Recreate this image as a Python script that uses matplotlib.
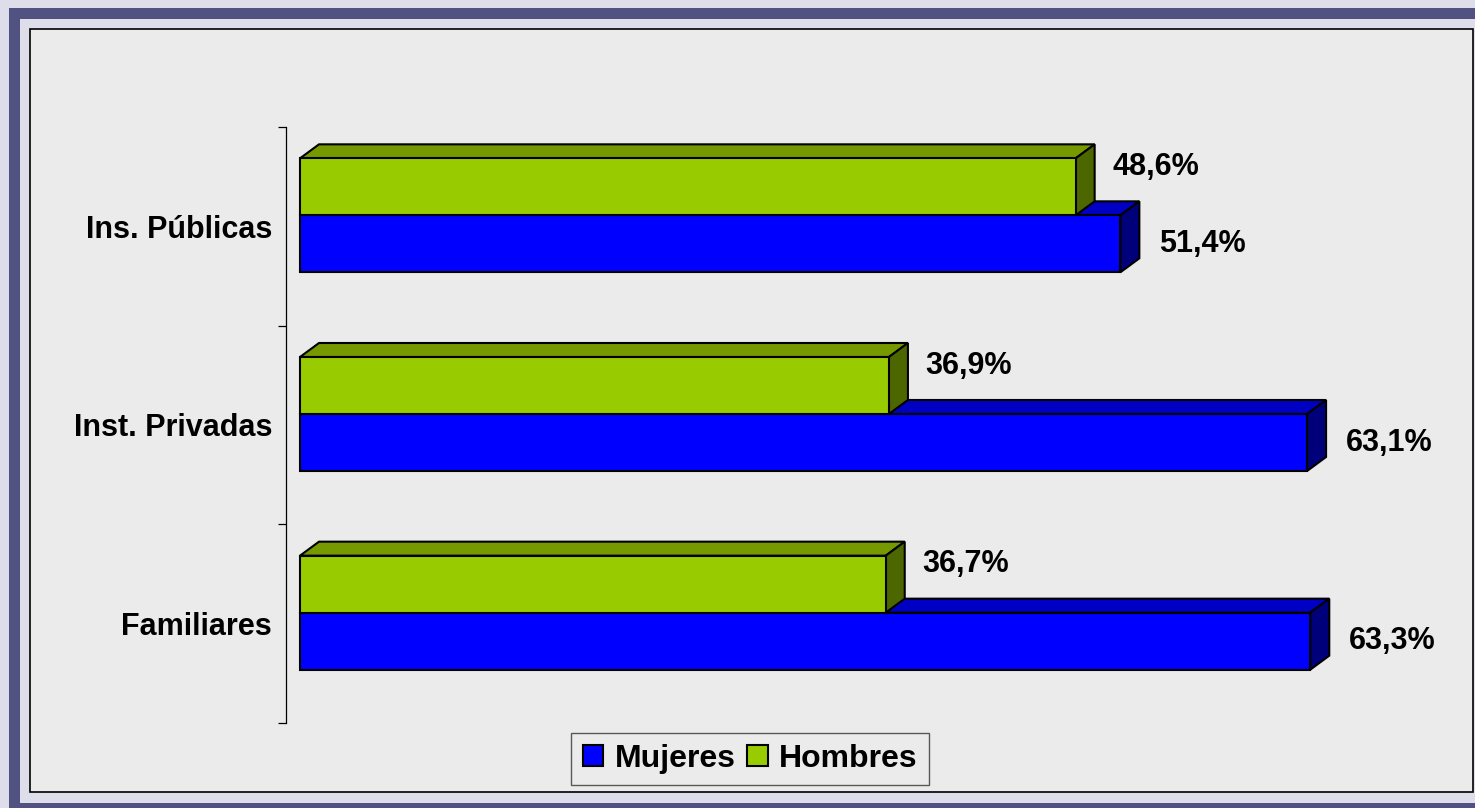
import matplotlib
matplotlib.use("Agg")
import matplotlib.pyplot as plt
from matplotlib.patches import Rectangle, Polygon

# data (bottom to top, as drawn)
categories = ["Familiares", "Inst. Privadas", "Ins. Públicas"]
mujeres = [63.3, 63.1, 51.4]
hombres = [36.7, 36.9, 48.6]
value_labels_m = ["63,3%", "63,1%", "51,4%"]
value_labels_h = ["36,7%", "36,9%", "48,6%"]
series_names = ["Mujeres", "Hombres"]

plt.rcParams['font.family'] = ['Liberation Sans', 'DejaVu Sans']
plt.rcParams['font.weight'] = 'bold'

W, H = 1475, 808
fig = plt.figure(figsize=(W / 100, H / 100), dpi=100)
fig.patch.set_facecolor("#dedeea")


def box(x0, y0, x1, y1, **kw):
    # rectangle given in pixels from the top-left corner
    r = Rectangle((x0 / W, 1 - y1 / H), (x1 - x0) / W, (y1 - y0) / H,
                  transform=fig.transFigure, zorder=-5, **kw)
    fig.add_artist(r)


# outer frame
box(9, 8, W + 5, H + 5, facecolor="#525282", edgecolor="none")
box(20, 19, W + 5, 803, facecolor="#dedeea", edgecolor="none")
box(30, 29, 1473, 792, facecolor="#ebebeb", edgecolor="black", linewidth=1.2)

# axes: left spine at x=286px, data 0 at x=300px, 15.96 px per %
ppu = 15.96
ax_left, ax_right = 286, 1420
ax_top, ax_bot = 127, 723
ax = fig.add_axes([ax_left / W, 1 - ax_bot / H, (ax_right - ax_left) / W, (ax_bot - ax_top) / H])
ax.set_zorder(2)
ax.patch.set_alpha(0)
xmin = -(300 - ax_left) / ppu
ax.set_xlim(xmin, xmin + (ax_right - ax_left) / ppu)
ax.set_ylim(-0.5, len(categories) - 0.5)
ypu = (ax_bot - ax_top) / len(categories)

for s in ["top", "right", "bottom"]:
    ax.spines[s].set_visible(False)
ax.spines["left"].set_linewidth(0.9)
ax.set_xticks([])
ax.set_yticks([i - 0.5 for i in range(len(categories) + 1)])
ax.set_yticklabels([])
ax.tick_params(axis="y", which="major", length=6, width=0.9, direction="out")
ax.set_yticks(range(len(categories)), minor=True)
ax.set_yticklabels(categories, minor=True, fontsize=22, fontweight="bold")
ax.tick_params(axis="y", which="minor", length=0, pad=10)

dx = 19 / ppu
dy = 14 / ypu
bh = 57 / ypu
shift = 11 / ypu

front_m, top_m, side_m = "#0000ff", "#0000c4", "#00007a"
front_h, top_h, side_h = "#99cc00", "#779900", "#4c6600"


def bar3d(y0, v, cf, ct, cs, z):
    kw = dict(edgecolor="black", linewidth=1.5, joinstyle="miter")
    ax.add_patch(Polygon([(0, y0 + bh), (dx, y0 + bh + dy), (v + dx, y0 + bh + dy), (v, y0 + bh)],
                         facecolor=ct, zorder=z, **kw))
    ax.add_patch(Polygon([(v, y0), (v + dx, y0 + dy), (v + dx, y0 + bh + dy), (v, y0 + bh)],
                         facecolor=cs, zorder=z, **kw))
    ax.add_patch(Rectangle((0, y0), v, bh, facecolor=cf, zorder=z + 0.5, **kw))


for i in range(len(categories)):
    base = i + shift
    bar3d(base - bh, mujeres[i], front_m, top_m, side_m, 2)
    bar3d(base, hombres[i], front_h, top_h, side_h, 3)
    ax.text(mujeres[i] + 2.4, base - bh / 2, value_labels_m[i], ha="left", va="center",
            fontsize=22, fontweight="bold", zorder=5)
    ax.text(hombres[i] + 2.3, base + bh / 2 + 20 / ypu, value_labels_h[i], ha="left", va="center",
            fontsize=22, fontweight="bold", zorder=5)

handles = [Rectangle((0, 0), 1, 1, facecolor=front_m, edgecolor="black", linewidth=1.5),
           Rectangle((0, 0), 1, 1, facecolor=front_h, edgecolor="black", linewidth=1.5)]
leg = fig.legend(handles, series_names, loc="center", bbox_to_anchor=(750 / W, 1 - 759 / H),
                 ncol=2, frameon=True, fancybox=False, facecolor="none", edgecolor="#333333",
                 prop={"size": 23, "weight": "bold"}, handlelength=0.65, handleheight=0.65,
                 handletextpad=0.35, columnspacing=0.35, borderpad=0.35, borderaxespad=0)
leg.get_frame().set_linewidth(1.0)

fig.savefig("out.png", dpi=100, facecolor=fig.get_facecolor())
